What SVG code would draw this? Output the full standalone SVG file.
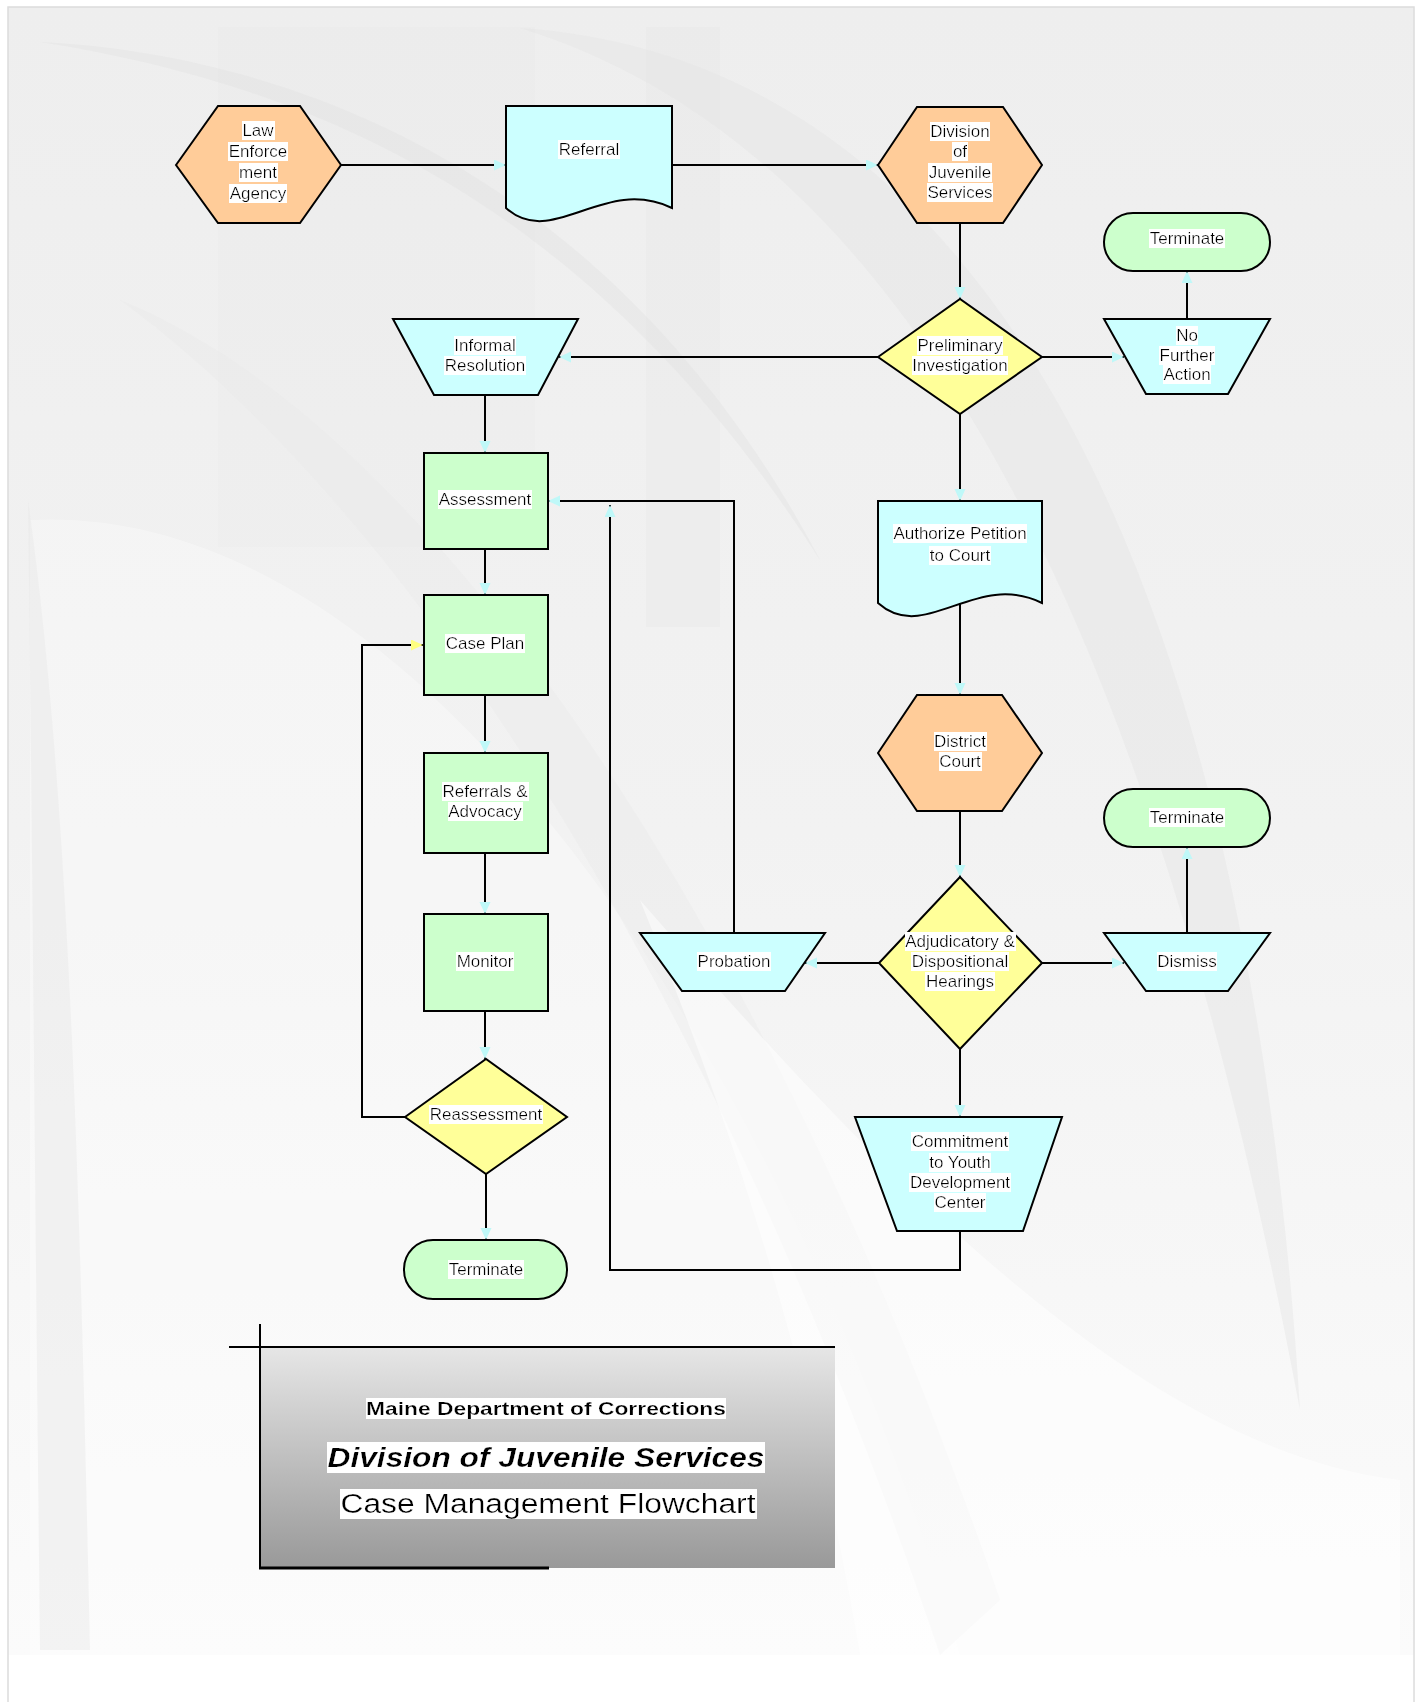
<svg xmlns="http://www.w3.org/2000/svg" width="1422" height="1702" viewBox="0 0 1422 1702">
<defs>
<style>
.lbl{font-family:"Liberation Sans",Arial,sans-serif;font-size:17px;fill:#000;text-anchor:middle;filter:url(#hl)}
.hex{fill:#ffcc99;stroke:#000;stroke-width:2}
.cy{fill:#ccffff;stroke:#000;stroke-width:2}
.gr{fill:#ccffcc;stroke:#000;stroke-width:2}
.yl{fill:#ffff99;stroke:#000;stroke-width:2}
.con path{fill:none;stroke:#000;stroke-width:2;marker-end:url(#ac)}
.con path.ly{marker-end:url(#ay)}
.ttl{font-family:"Liberation Sans",Arial,sans-serif;text-anchor:middle;fill:#000;filter:url(#hl)}
</style>
<filter id="hl" x="0" y="0" width="1" height="1"><feFlood flood-color="#ffffff"/><feComposite in="SourceGraphic"/></filter>
<marker id="ac" markerUnits="userSpaceOnUse" markerWidth="14" markerHeight="12" refX="12" refY="5.5" orient="auto"><path d="M0,0 L12,5.5 L0,11 Z" fill="#bff8f8"/></marker>
<marker id="ay" markerUnits="userSpaceOnUse" markerWidth="14" markerHeight="12" refX="12" refY="5.5" orient="auto"><path d="M0,0 L12,5.5 L0,11 Z" fill="#ffff80"/></marker>
<linearGradient id="bg" x1="0" y1="0" x2="0" y2="1"><stop offset="0" stop-color="#eeeeee"/><stop offset="0.5" stop-color="#f2f2f2"/><stop offset="1" stop-color="#fbfbfb"/></linearGradient>
<linearGradient id="tb" x1="0" y1="0" x2="0" y2="1"><stop offset="0" stop-color="#e6e6e6"/><stop offset="1" stop-color="#999999"/></linearGradient>
</defs>

<g id="background">
<rect x="0" y="0" width="1422" height="1702" fill="#ffffff"/>
<rect x="8" y="7" width="1406" height="1648" fill="url(#bg)"/>
<rect x="218" y="27" width="317" height="520" fill="#e4e4e4" opacity="0.15"/>
<rect x="646" y="27" width="74" height="600" fill="#e2e2e2" opacity="0.25"/>
<path d="M40,42 C300,55 620,180 820,560 C610,230 350,90 40,42 Z" fill="#e2e2e2" opacity="0.45"/>
<path d="M520,28 C1000,60 1250,600 1300,1410 C1170,720 950,160 520,28 Z" fill="#e4e4e4" opacity="0.45"/>
<path d="M30,520 C420,500 780,1050 960,1655 L30,1655 Z" fill="#ffffff" opacity="0.3"/>
<path d="M28,500 C70,800 80,1200 90,1650 L40,1650 C35,1200 32,800 28,500 Z" fill="#e6e6e6" opacity="0.4"/>
<path d="M120,300 C420,420 760,900 1000,1600 L940,1655 C720,1000 420,520 120,300 Z" fill="#e8e8e8" opacity="0.35"/>
<path d="M640,900 C900,1200 1150,1450 1400,1480 L1400,1655 L860,1655 C800,1300 700,1050 640,900 Z" fill="#ffffff" opacity="0.5"/>
<rect x="8" y="7" width="1406" height="1700" fill="none" stroke="#dcdcdc" stroke-width="1.5"/>
</g>

<g id="connectors" class="con">
<path d="M341,165 H506"/>
<path d="M672,165 H878"/>
<path d="M960,223 V299"/>
<path d="M1042,357 H1124"/>
<path d="M1187,319 V271"/>
<path d="M878,357 H559"/>
<path d="M485,395 V453"/>
<path d="M485,549 V595"/>
<path d="M485,695 V753"/>
<path d="M485,853 V914"/>
<path d="M485,1011 V1059"/>
<path d="M486,1174 V1240"/>
<path class="ly" d="M405,1117 H362 V645 H423"/>
<path d="M960,414 V501"/>
<path d="M960,604 V695"/>
<path d="M960,811 V877"/>
<path d="M879,963 H805"/>
<path d="M1042,963 H1124"/>
<path d="M1187,933 V847"/>
<path d="M734,933 V501 H548"/>
<path d="M960,1049 V1117"/>
<path d="M960,1231 V1270 H610 V505"/>
</g>

<g id="law-enforcement">
<polygon class="hex" points="176,165 218,106 300,106 341,165 300,223 218,223"/>
<text class="lbl" x="258" y="136">Law</text>
<text class="lbl" x="258" y="157">Enforce</text>
<text class="lbl" x="258" y="178">ment</text>
<text class="lbl" x="258" y="199">Agency</text>
</g>

<g id="referral">
<path class="cy" d="M506,106 H672 V208 C603,175 553,250 506,208 Z"/>
<text class="lbl" x="589" y="155">Referral</text>
</g>

<g id="division-juvenile-services">
<polygon class="hex" points="878,165 917,107 1003,107 1042,165 1003,223 917,223"/>
<text class="lbl" x="960" y="137">Division</text>
<text class="lbl" x="960" y="157">of</text>
<text class="lbl" x="960" y="178">Juvenile</text>
<text class="lbl" x="960" y="198">Services</text>
</g>

<g id="terminate-1">
<rect class="gr" x="1104" y="213" width="166" height="58" rx="29" ry="29"/>
<text class="lbl" x="1187" y="244">Terminate</text>
</g>

<g id="no-further-action">
<polygon class="cy" points="1104,319 1270,319 1228,394 1146,394"/>
<text class="lbl" x="1187" y="341">No</text>
<text class="lbl" x="1187" y="361">Further</text>
<text class="lbl" x="1187" y="380">Action</text>
</g>

<g id="preliminary-investigation">
<polygon class="yl" points="878,357 960,299 1042,357 960,414"/>
<text class="lbl" x="960" y="351">Preliminary</text>
<text class="lbl" x="960" y="371">Investigation</text>
</g>

<g id="informal-resolution">
<polygon class="cy" points="393,319 578,319 538,395 434,395"/>
<text class="lbl" x="485" y="351">Informal</text>
<text class="lbl" x="485" y="371">Resolution</text>
</g>

<g id="assessment">
<rect class="gr" x="424" y="453" width="124" height="96"/>
<text class="lbl" x="485" y="505">Assessment</text>
</g>

<g id="authorize-petition">
<path class="cy" d="M878,501 H1042 V603 C975,570 925,645 878,603 Z"/>
<text class="lbl" x="960" y="539">Authorize Petition</text>
<text class="lbl" x="960" y="561">to Court</text>
</g>

<g id="case-plan">
<rect class="gr" x="424" y="595" width="124" height="100"/>
<text class="lbl" x="485" y="649">Case Plan</text>
</g>

<g id="referrals-advocacy">
<rect class="gr" x="424" y="753" width="124" height="100"/>
<text class="lbl" x="485" y="797">Referrals &amp;</text>
<text class="lbl" x="485" y="817">Advocacy</text>
</g>

<g id="monitor">
<rect class="gr" x="424" y="914" width="124" height="97"/>
<text class="lbl" x="485" y="967">Monitor</text>
</g>

<g id="district-court">
<polygon class="hex" points="878,753 917,695 1002,695 1042,753 1002,811 917,811"/>
<text class="lbl" x="960" y="747">District</text>
<text class="lbl" x="960" y="767">Court</text>
</g>

<g id="terminate-2">
<rect class="gr" x="1104" y="789" width="166" height="58" rx="29" ry="29"/>
<text class="lbl" x="1187" y="823">Terminate</text>
</g>

<g id="adjudicatory-hearings">
<polygon class="yl" points="879,963 960,877 1042,963 960,1049"/>
<text class="lbl" x="960" y="947">Adjudicatory &amp;</text>
<text class="lbl" x="960" y="967">Dispositional</text>
<text class="lbl" x="960" y="987">Hearings</text>
</g>

<g id="probation">
<polygon class="cy" points="640,933 825,933 785,991 682,991"/>
<text class="lbl" x="734" y="967">Probation</text>
</g>

<g id="dismiss">
<polygon class="cy" points="1104,933 1270,933 1228,991 1146,991"/>
<text class="lbl" x="1187" y="967">Dismiss</text>
</g>

<g id="reassessment">
<polygon class="yl" points="405,1117 486,1059 567,1117 486,1174"/>
<text class="lbl" x="486" y="1120">Reassessment</text>
</g>

<g id="terminate-3">
<rect class="gr" x="404" y="1240" width="163" height="59" rx="29" ry="29"/>
<text class="lbl" x="486" y="1275">Terminate</text>
</g>

<g id="commitment">
<polygon class="cy" points="855,1117 1062,1117 1023,1231 897,1231"/>
<text class="lbl" x="960" y="1147">Commitment</text>
<text class="lbl" x="960" y="1168">to Youth</text>
<text class="lbl" x="960" y="1188">Development</text>
<text class="lbl" x="960" y="1208">Center</text>
</g>

<g id="title-block">
<rect x="260" y="1347" width="575" height="221" fill="url(#tb)"/>
<path d="M229,1347 H835 M260,1324 V1569" stroke="#000" stroke-width="2" fill="none"/>
<path d="M259,1568 H549" stroke="#000" stroke-width="3" fill="none"/>
<text class="ttl" x="546" y="1415" font-size="19" font-weight="bold" textLength="360" lengthAdjust="spacingAndGlyphs">Maine Department of Corrections</text>
<text class="ttl" x="546" y="1467" font-size="28" font-weight="bold" font-style="italic" textLength="437" lengthAdjust="spacingAndGlyphs">Division of Juvenile Services</text>
<text class="ttl" x="548" y="1513" font-size="27" textLength="415" lengthAdjust="spacingAndGlyphs">Case Management Flowchart</text>
</g>
</svg>
